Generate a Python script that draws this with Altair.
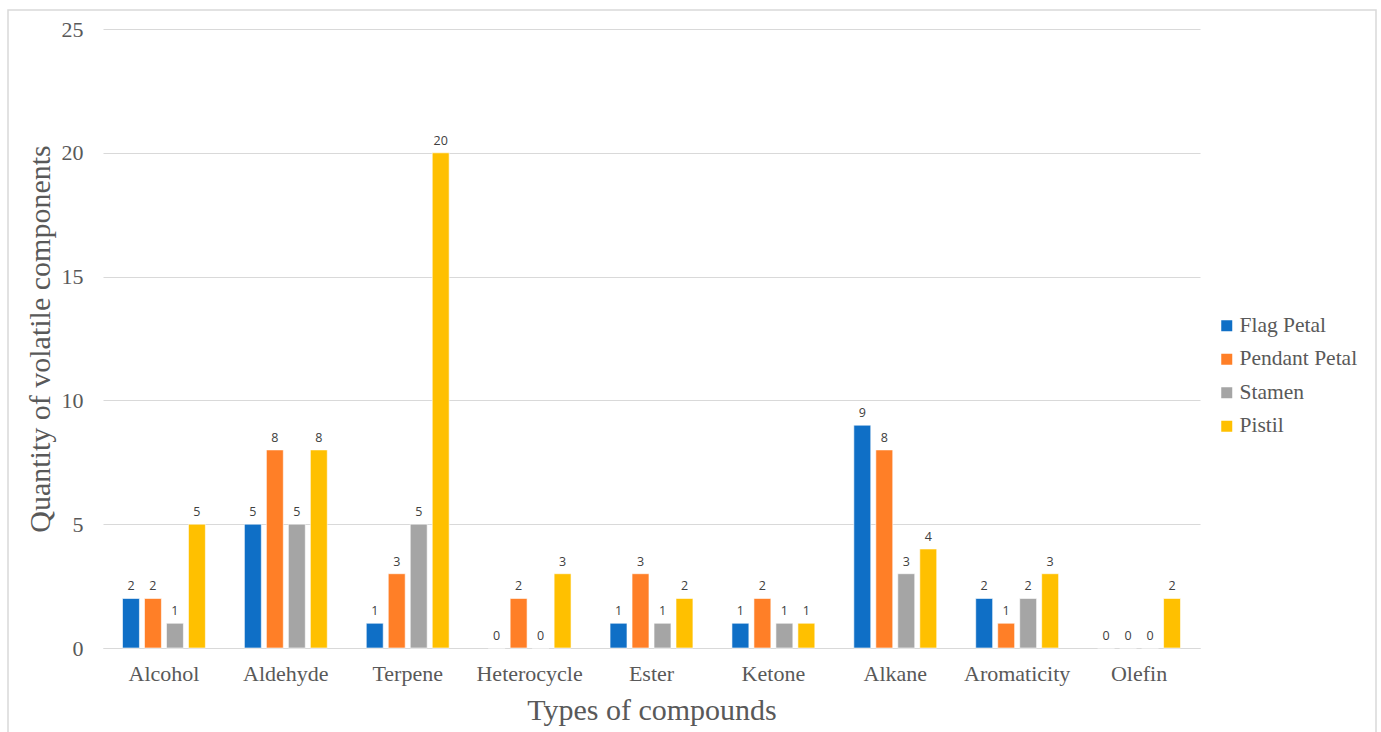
import altair as alt
import pandas as pd

# Number of volatile components found per compound class and flower part
compounds = ["Alcohol", "Aldehyde", "Terpene", "Heterocycle", "Ester",
             "Ketone", "Alkane", "Aromaticity", "Olefin"]
parts = ["Flag Petal", "Pendant Petal", "Stamen", "Pistil"]
flag_petal = [2, 5, 1, 0, 1, 1, 9, 2, 0]
pendant_petal = [2, 8, 3, 2, 3, 2, 8, 1, 0]
stamen = [1, 5, 5, 0, 1, 1, 3, 2, 0]
pistil = [5, 8, 20, 3, 2, 1, 4, 3, 2]
colors = ["#0F6FC6", "#FF7F27", "#A5A5A5", "#FFC000"]
y_ticks = [0, 5, 10, 15, 20, 25]

rows = []
for part, values in zip(parts, [flag_petal, pendant_petal, stamen, pistil]):
    for comp, v in zip(compounds, values):
        rows.append({"compound": comp, "part": part, "count": v})
df = pd.DataFrame(rows)

W, H = 1097, 619
serif = "Liberation Serif"
grey_text = "#595959"

x_enc = alt.X("compound:N", sort=compounds,
              scale=alt.Scale(paddingInner=0.32, paddingOuter=0.16),
              axis=alt.Axis(title="Types of compounds", labelAngle=0,
                            labelFont=serif, labelFontSize=22, labelColor=grey_text,
                            labelPadding=15, ticks=False, domain=True,
                            domainColor="#D9D9D9", domainWidth=1.2,
                            titleFont=serif, titleFontSize=30, titleFontWeight="normal",
                            titleColor=grey_text, titlePadding=11))
off_enc = alt.XOffset("part:N", sort=parts,
                      scale=alt.Scale(paddingInner=0.23, paddingOuter=0))
y_enc = alt.Y("count:Q",
              scale=alt.Scale(domain=[0, 25], nice=False),
              axis=alt.Axis(title="Quantity of volatile components", values=y_ticks,
                            labelFont=serif, labelFontSize=22, labelColor=grey_text,
                            labelPadding=20, ticks=False, domain=False,
                            gridColor="#D9D9D9", gridWidth=1.2,
                            titleFont=serif, titleFontSize=30, titleFontWeight="normal",
                            titleColor=grey_text, titlePadding=6))

base = alt.Chart(df).encode(x=x_enc, xOffset=off_enc, y=y_enc)

bars = base.mark_bar(stroke="white", strokeWidth=0.6).encode(
    color=alt.Color("part:N", sort=parts,
                    scale=alt.Scale(domain=parts, range=colors),
                    legend=alt.Legend(title=None, orient="none", legendX=1113, legendY=286,
                                      symbolType="square", symbolSize=121,
                                      symbolStrokeWidth=0,
                                      labelFont=serif, labelFontSize=21.5,
                                      labelColor=grey_text, rowPadding=10.5,
                                      labelOffset=2))
)

labels = base.mark_text(dy=-12, fontSize=12.5, font="Open Sans", color="#404040").encode(
    text="count:Q"
)

# Light frame around the whole figure
frame = alt.Chart(pd.DataFrame({"k": [0]})).mark_rect(
    fill=None, stroke="#D9D9D9", strokeWidth=1.5
).encode(
    x=alt.value(-95), x2=alt.value(1273),
    y=alt.value(-19), y2=alt.value(720)
)

chart = alt.layer(frame, bars, labels).properties(
    width=W, height=H,
    autosize=alt.AutoSizeParams(type="none"),
    padding={"left": 103, "top": 29, "right": 181, "bottom": 84},
    background="white"
).configure_view(stroke=None)

chart.save("out.html", embed_options={"renderer": "svg", "actions": False})
